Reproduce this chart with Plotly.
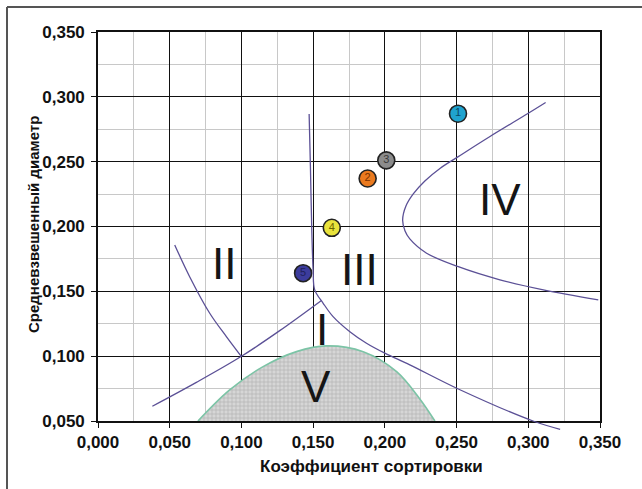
import plotly.graph_objects as go

# ---------------- data ----------------
# sample points (numbered circles)
pt_labels = ["1", "2", "3", "4", "5"]
pt_x = [0.251, 0.188, 0.201, 0.163, 0.143]
pt_y = [0.287, 0.237, 0.251, 0.199, 0.164]
pt_colors = ["#1fa3cf", "#ea7a1f", "#8c8c8c", "#e9e33c", "#3c3c9c"]
pt_textcolors = ["#0b4a66", "#7a3200", "#3a3a3a", "#6a6400", "#20205a"]

# boundary curve between I and III (near-vertical then falling to the right)
curveA_x = [0.1472, 0.1481, 0.1491, 0.1500, 0.1511, 0.1570, 0.1639, 0.1756,
            0.1872, 0.2000, 0.2174, 0.2512, 0.3033, 0.3222]
curveA_y = [0.2868, 0.2461, 0.1950, 0.1665, 0.1511, 0.1408, 0.1305, 0.1189,
            0.1100, 0.1023, 0.0933, 0.0747, 0.0500, 0.0436]

# boundary curve of region II
curveII_x = [0.0535, 0.0639, 0.0779, 0.0895, 0.1000]
curveII_y = [0.1858, 0.1613, 0.1331, 0.1151, 0.0997]

# rising boundary line (bottom-left to junction)
diag_x = [0.0379, 0.0686, 0.1000, 0.1267, 0.1558]
diag_y = [0.0614, 0.0798, 0.0999, 0.1197, 0.1430]

# boundary of region IV (C-shaped curve)
curveIV_x = [0.3121, 0.3000, 0.2733, 0.2512, 0.2384, 0.2279, 0.2198, 0.2147, 0.2124,
             0.2140, 0.2174, 0.2291, 0.2512, 0.2802, 0.3105, 0.3488]
curveIV_y = [0.2956, 0.2873, 0.2694, 0.2539, 0.2448, 0.2351, 0.2251, 0.2158, 0.2050,
             0.1967, 0.1904, 0.1794, 0.1690, 0.1589, 0.1511, 0.1434]

# region V (hatched dome)
domeV_x = [0.0697, 0.0918, 0.1151, 0.1384, 0.1593, 0.1849, 0.2082, 0.2244, 0.2349]
domeV_y = [0.0500, 0.0740, 0.0919, 0.1035, 0.1079, 0.1035, 0.0881, 0.0670, 0.0500]

# region labels
reg_text = ["I", "II", "III", "IV", "V"]
reg_x = [0.1565, 0.0877, 0.1825, 0.2803, 0.1523]
reg_y = [0.1208, 0.1711, 0.1665, 0.2205, 0.0765]

x_ticks = [0.0, 0.05, 0.10, 0.15, 0.20, 0.25, 0.30, 0.35]
y_ticks = [0.05, 0.10, 0.15, 0.20, 0.25, 0.30, 0.35]

x_title = "Коэффициент сортировки"
y_title = "Средневзвешенный диаметр"

# ---------------- layout geometry ----------------
W, H = 642, 489
ML, MR, MT, MB = 98, 42, 32, 49
plot_w = W - ML - MR
plot_h = H - MT - MB
axis_bottom_px = 421          # pixel row of the x axis
d = (H - MB - axis_bottom_px) / plot_h   # main y-domain start
y_lo, y_hi = 0.05, 0.35
y2_lo = y_lo - (y_hi - y_lo) * d / (1 - d)


def px_to_paper_x(px):
    return (px - ML) / plot_w


def px_to_paper_y(py):
    return (H - MB - py) / plot_h


FONT = "Liberation Sans, Arial, sans-serif"
CURVE = dict(color="#5b5096", width=1.3)

fig = go.Figure()

# region V dome
fig.add_trace(go.Scatter(
    x=domeV_x, y=domeV_y, mode="lines", line=dict(color="#7cc4a6", width=1.6, shape="spline"),
    fill="tozeroy", fillcolor="#cfcfcf",
    fillpattern=dict(shape="+", fgcolor="#8c8c8c", bgcolor="#d6d6d6", size=4, solidity=0.3),
    hoverinfo="skip", showlegend=False))

fig.add_trace(go.Scatter(x=curveII_x, y=curveII_y, mode="lines",
                         line=dict(**CURVE, shape="spline"), showlegend=False))
fig.add_trace(go.Scatter(x=diag_x, y=diag_y, mode="lines",
                         line=dict(**CURVE, shape="spline"), showlegend=False))
fig.add_trace(go.Scatter(x=curveIV_x, y=curveIV_y, mode="lines",
                         line=dict(**CURVE, shape="spline"), showlegend=False))
# curve A on the extended overlay so its tail shows below the axis
fig.add_trace(go.Scatter(x=curveA_x, y=curveA_y, mode="lines", xaxis="x2", yaxis="y2",
                         line=dict(**CURVE, shape="spline"), showlegend=False))

# numbered points
fig.add_trace(go.Scatter(
    x=pt_x, y=pt_y, mode="markers+text", text=pt_labels,
    textposition="middle center",
    textfont=dict(family=FONT, size=11, color=pt_textcolors),
    marker=dict(size=17, color=pt_colors, line=dict(color="#222222", width=1.6)),
    showlegend=False))

tickfont = dict(family=FONT, size=17, color="#111111", weight="bold")

fig.update_layout(
    width=W, height=H,
    margin=dict(l=ML, r=MR, t=MT, b=MB),
    paper_bgcolor="white", plot_bgcolor="rgba(0,0,0,0)",
    separators=", ",
    xaxis=dict(range=[0, 0.35], tickvals=x_ticks, tickformat=".3f", domain=[0, 1],
               anchor="y", showgrid=True, gridcolor="#111111", gridwidth=1.3,
               minor=dict(dtick=0.025, tick0=0, showgrid=True, gridcolor="#c8c8c8", gridwidth=1),
               showline=True, linecolor="#111111", linewidth=1.6, mirror=True,
               ticks="outside", ticklen=5, tickcolor="#111111",
               tickfont=tickfont, zeroline=False),
    yaxis=dict(range=[y_lo, y_hi], tickvals=y_ticks, tickformat=".3f", domain=[d, 1],
               anchor="x", showgrid=True, gridcolor="#111111", gridwidth=1.3,
               minor=dict(dtick=0.025, tick0=0.05, showgrid=True, gridcolor="#c8c8c8", gridwidth=1),
               showline=True, linecolor="#111111", linewidth=1.6, mirror=True,
               ticks="outside", ticklen=5, tickcolor="#111111",
               ticklabelstandoff=3,
               tickfont=tickfont, zeroline=False),
    xaxis2=dict(range=[0, 0.35], domain=[0, 1], anchor="y2", visible=False),
    yaxis2=dict(range=[y2_lo, y_hi], domain=[0, 1], anchor="x2", visible=False),
)

# region labels
for t, x, y in zip(reg_text, reg_x, reg_y):
    fig.add_annotation(x=x, y=y, xref="x", yref="y", text=t, showarrow=False,
                       font=dict(family=FONT, size=44, color="#151515"),
                       xanchor="center", yanchor="middle")

# axis titles
fig.add_annotation(x=px_to_paper_x(371), y=px_to_paper_y(466), xref="paper", yref="paper",
                   text=x_title, showarrow=False, xanchor="center", yanchor="middle",
                   font=dict(family=FONT, size=17, color="#111111", weight="bold"))
fig.add_annotation(x=px_to_paper_x(33), y=px_to_paper_y(225), xref="paper", yref="paper",
                   text=y_title, showarrow=False, textangle=-90, xanchor="center", yanchor="middle",
                   font=dict(family=FONT, size=15, color="#111111", weight="bold"))

# outer frame of the original picture (top and left edges)
fig.add_shape(type="line", xref="paper", yref="paper",
              x0=px_to_paper_x(7), x1=px_to_paper_x(W), y0=px_to_paper_y(7), y1=px_to_paper_y(7),
              line=dict(color="#555555", width=2))
fig.add_shape(type="line", xref="paper", yref="paper",
              x0=px_to_paper_x(7), x1=px_to_paper_x(7), y0=px_to_paper_y(7), y1=px_to_paper_y(H),
              line=dict(color="#555555", width=2))

# remove the browser's default page margin so the figure sits at the window origin
fig.write_html("out.html", config={"displayModeBar": False},
               post_script="document.body.style.margin='0px';")
